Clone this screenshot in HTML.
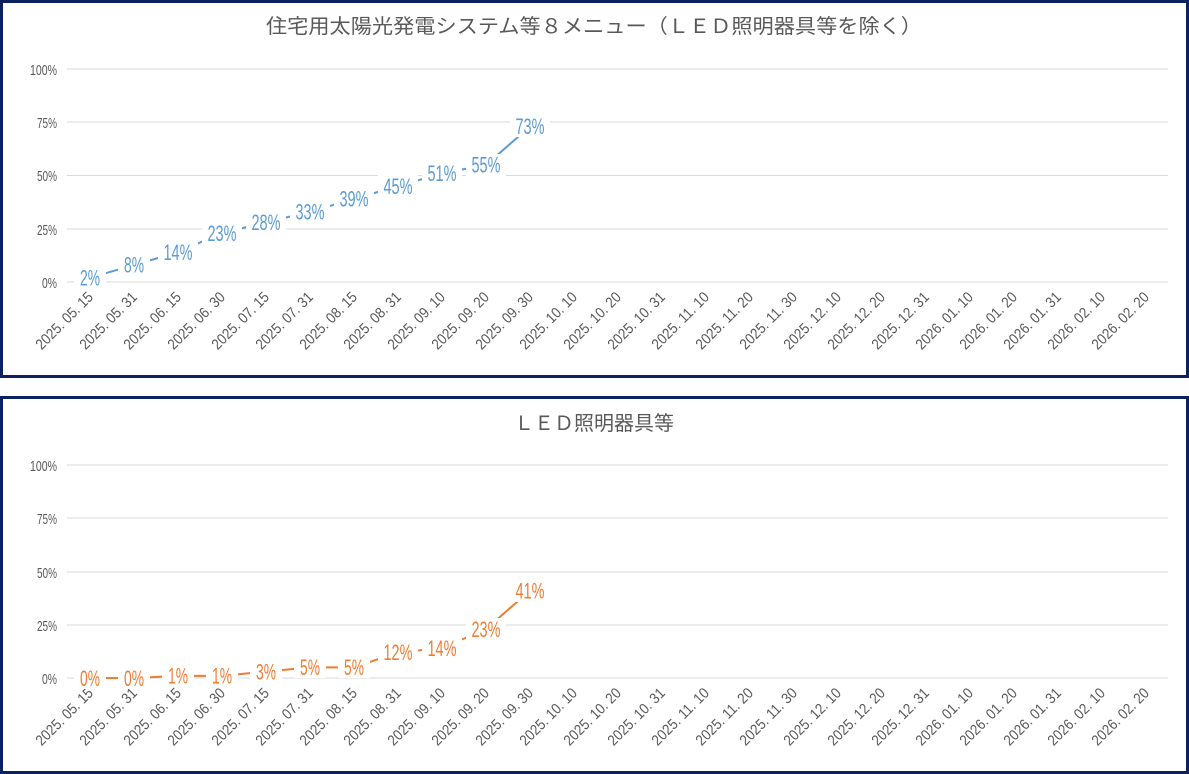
<!DOCTYPE html>
<html><head><meta charset="utf-8"><style>
html,body{margin:0;padding:0;background:#fff;}
svg{display:block;font-family:"Liberation Sans","Noto Sans CJK JP",sans-serif;}
.tk{font-size:15px;fill:#595959;}
.yl{font-size:15px;fill:#595959;}
.b{fill:#5b9bd5;font-size:22px;}
.o{fill:#ed7d31;font-size:22px;}
</style></head><body>
<svg width="1189" height="774" viewBox="0 0 1189 774">
<rect x="1.5" y="1.5" width="1186" height="375" fill="#fff" stroke="#0c2260" stroke-width="3"/>
<rect x="1.5" y="397.5" width="1186" height="375" fill="#fff" stroke="#0c2260" stroke-width="3"/>
<text x="594" y="33" text-anchor="middle" font-size="20" fill="#595959" textLength="656" lengthAdjust="spacingAndGlyphs">住宅用太陽光発電システム等８メニュー（ＬＥＤ照明器具等を除く）</text>
<text x="594" y="430" text-anchor="middle" font-size="20" fill="#595959">ＬＥＤ照明器具等</text>
<g stroke="#d9d9d9" stroke-width="1">
<line x1="67" x2="1168" y1="69" y2="69"/><line x1="67" x2="1168" y1="122" y2="122"/><line x1="67" x2="1168" y1="175.5" y2="175.5"/><line x1="67" x2="1168" y1="229" y2="229"/><line x1="67" x2="1168" y1="282" y2="282"/>
<line x1="67" x2="1168" y1="465" y2="465"/><line x1="67" x2="1168" y1="518" y2="518"/><line x1="67" x2="1168" y1="572" y2="572"/><line x1="67" x2="1168" y1="625" y2="625"/><line x1="67" x2="1168" y1="678" y2="678"/>
</g>
<g class="yl" text-anchor="end">
<text x="57" y="75" textLength="27" lengthAdjust="spacingAndGlyphs">100%</text><text x="57" y="128" textLength="20" lengthAdjust="spacingAndGlyphs">75%</text><text x="57" y="181" textLength="20" lengthAdjust="spacingAndGlyphs">50%</text><text x="57" y="235" textLength="20" lengthAdjust="spacingAndGlyphs">25%</text><text x="57" y="288" textLength="15" lengthAdjust="spacingAndGlyphs">0%</text>
<text x="57" y="471" textLength="27" lengthAdjust="spacingAndGlyphs">100%</text><text x="57" y="524" textLength="20" lengthAdjust="spacingAndGlyphs">75%</text><text x="57" y="578" textLength="20" lengthAdjust="spacingAndGlyphs">50%</text><text x="57" y="631" textLength="20" lengthAdjust="spacingAndGlyphs">25%</text><text x="57" y="684" textLength="15" lengthAdjust="spacingAndGlyphs">0%</text>
</g>
<g class="tk" text-anchor="end">
<g id="ticks">
<text transform="translate(94,298) rotate(-45)" textLength="74" lengthAdjust="spacingAndGlyphs">2025. 05. 15</text>
<text transform="translate(138,298) rotate(-45)" textLength="74" lengthAdjust="spacingAndGlyphs">2025. 05. 31</text>
<text transform="translate(182,298) rotate(-45)" textLength="74" lengthAdjust="spacingAndGlyphs">2025. 06. 15</text>
<text transform="translate(226,298) rotate(-45)" textLength="74" lengthAdjust="spacingAndGlyphs">2025. 06. 30</text>
<text transform="translate(270,298) rotate(-45)" textLength="74" lengthAdjust="spacingAndGlyphs">2025. 07. 15</text>
<text transform="translate(314,298) rotate(-45)" textLength="74" lengthAdjust="spacingAndGlyphs">2025. 07. 31</text>
<text transform="translate(358,298) rotate(-45)" textLength="74" lengthAdjust="spacingAndGlyphs">2025. 08. 15</text>
<text transform="translate(402,298) rotate(-45)" textLength="74" lengthAdjust="spacingAndGlyphs">2025. 08. 31</text>
<text transform="translate(446,298) rotate(-45)" textLength="74" lengthAdjust="spacingAndGlyphs">2025. 09. 10</text>
<text transform="translate(490,298) rotate(-45)" textLength="74" lengthAdjust="spacingAndGlyphs">2025. 09. 20</text>
<text transform="translate(534,298) rotate(-45)" textLength="74" lengthAdjust="spacingAndGlyphs">2025. 09. 30</text>
<text transform="translate(578,298) rotate(-45)" textLength="74" lengthAdjust="spacingAndGlyphs">2025. 10. 10</text>
<text transform="translate(622,298) rotate(-45)" textLength="74" lengthAdjust="spacingAndGlyphs">2025. 10. 20</text>
<text transform="translate(666,298) rotate(-45)" textLength="74" lengthAdjust="spacingAndGlyphs">2025. 10. 31</text>
<text transform="translate(710,298) rotate(-45)" textLength="74" lengthAdjust="spacingAndGlyphs">2025. 11. 10</text>
<text transform="translate(754,298) rotate(-45)" textLength="74" lengthAdjust="spacingAndGlyphs">2025. 11. 20</text>
<text transform="translate(798,298) rotate(-45)" textLength="74" lengthAdjust="spacingAndGlyphs">2025. 11. 30</text>
<text transform="translate(842,298) rotate(-45)" textLength="74" lengthAdjust="spacingAndGlyphs">2025. 12. 10</text>
<text transform="translate(886,298) rotate(-45)" textLength="74" lengthAdjust="spacingAndGlyphs">2025. 12. 20</text>
<text transform="translate(930,298) rotate(-45)" textLength="74" lengthAdjust="spacingAndGlyphs">2025. 12. 31</text>
<text transform="translate(974,298) rotate(-45)" textLength="74" lengthAdjust="spacingAndGlyphs">2026. 01. 10</text>
<text transform="translate(1018,298) rotate(-45)" textLength="74" lengthAdjust="spacingAndGlyphs">2026. 01. 20</text>
<text transform="translate(1062,298) rotate(-45)" textLength="74" lengthAdjust="spacingAndGlyphs">2026. 01. 31</text>
<text transform="translate(1106,298) rotate(-45)" textLength="74" lengthAdjust="spacingAndGlyphs">2026. 02. 10</text>
<text transform="translate(1150,298) rotate(-45)" textLength="74" lengthAdjust="spacingAndGlyphs">2026. 02. 20</text>
</g>
<use href="#ticks" transform="translate(0,396)"/>
</g>
<polyline fill="none" stroke="#5b9bd5" stroke-width="2" points="90,277.7 134,265 178,252.2 222,233 266,222.4 310,211.7 354,198.9 398,186.2 442,173.4 486,164.9 530,126.5"/>
<polyline fill="none" stroke="#ed7d31" stroke-width="2" points="90,678 134,678 178,675.9 222,675.9 266,671.6 310,667.4 354,667.4 398,652.4 442,648.2 486,629 530,590.7"/>
<g fill="#fff">
<rect x="74" y="267" width="32" height="22"/><rect x="118" y="254" width="32" height="22"/><rect x="158" y="241" width="40" height="22"/><rect x="202" y="222" width="40" height="22"/><rect x="246" y="211" width="40" height="22"/><rect x="290" y="201" width="40" height="22"/><rect x="334" y="188" width="40" height="22"/><rect x="378" y="175" width="40" height="22"/><rect x="422" y="162" width="40" height="22"/><rect x="466" y="154" width="40" height="22"/><rect x="510" y="115" width="40" height="22"/>
<rect x="74" y="667" width="32" height="22"/><rect x="118" y="667" width="32" height="22"/><rect x="162" y="665" width="32" height="22"/><rect x="206" y="665" width="32" height="22"/><rect x="250" y="660" width="32" height="22"/><rect x="294" y="656" width="32" height="22"/><rect x="338" y="656" width="32" height="22"/><rect x="378" y="641" width="40" height="22"/><rect x="422" y="637" width="40" height="22"/><rect x="466" y="618" width="40" height="22"/><rect x="510" y="580" width="40" height="22"/>
</g>
<g class="b" text-anchor="middle">
<text x="90" y="285.5" textLength="20" lengthAdjust="spacingAndGlyphs">2%</text><text x="134" y="272.5" textLength="20" lengthAdjust="spacingAndGlyphs">8%</text><text x="178" y="260" textLength="29" lengthAdjust="spacingAndGlyphs">14%</text><text x="222" y="241" textLength="29" lengthAdjust="spacingAndGlyphs">23%</text><text x="266" y="230" textLength="29" lengthAdjust="spacingAndGlyphs">28%</text><text x="310" y="219.5" textLength="29" lengthAdjust="spacingAndGlyphs">33%</text><text x="354" y="206.5" textLength="29" lengthAdjust="spacingAndGlyphs">39%</text><text x="398" y="194" textLength="29" lengthAdjust="spacingAndGlyphs">45%</text><text x="442" y="181" textLength="29" lengthAdjust="spacingAndGlyphs">51%</text><text x="486" y="172.5" textLength="29" lengthAdjust="spacingAndGlyphs">55%</text><text x="530" y="134" textLength="29" lengthAdjust="spacingAndGlyphs">73%</text>
</g>
<g class="o" text-anchor="middle">
<text x="90" y="686" textLength="20" lengthAdjust="spacingAndGlyphs">0%</text><text x="134" y="686" textLength="20" lengthAdjust="spacingAndGlyphs">0%</text><text x="178" y="683.5" textLength="20" lengthAdjust="spacingAndGlyphs">1%</text><text x="222" y="683.5" textLength="20" lengthAdjust="spacingAndGlyphs">1%</text><text x="266" y="679.5" textLength="20" lengthAdjust="spacingAndGlyphs">3%</text><text x="310" y="675" textLength="20" lengthAdjust="spacingAndGlyphs">5%</text><text x="354" y="675" textLength="20" lengthAdjust="spacingAndGlyphs">5%</text><text x="398" y="660" textLength="29" lengthAdjust="spacingAndGlyphs">12%</text><text x="442" y="656" textLength="29" lengthAdjust="spacingAndGlyphs">14%</text><text x="486" y="637" textLength="29" lengthAdjust="spacingAndGlyphs">23%</text><text x="530" y="598.5" textLength="29" lengthAdjust="spacingAndGlyphs">41%</text>
</g>
</svg>
</body></html>
